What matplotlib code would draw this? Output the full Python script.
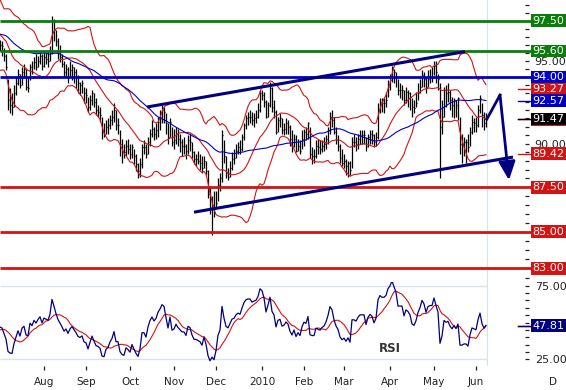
import numpy as np
import pandas as pd
import matplotlib
matplotlib.use("Agg")
import matplotlib.pyplot as plt
import matplotlib.transforms as mtransforms
from matplotlib.ticker import FixedLocator, FormatStrFormatter, NullFormatter

plt.rcParams['font.family'] = ['DejaVu Sans']

# ---------------- data ----------------
start_date, end_date = '2009-07-02', '2010-06-08'

highs = [
    # Jul
    96.3, 96.2, 95.8, 95.4, 93.9, 93.3, 93.0, 93.5, 94.0, 94.5, 94.2, 94.6, 94.8, 94.5, 94.0, 94.8, 95.0, 95.2, 95.4, 95.3, 95.6, 95.4,
    # Aug
    95.6, 95.5, 95.6, 95.9, 97.8, 97.6, 96.9, 96.4, 96.0, 95.4, 95.0, 94.8, 94.6, 95.0, 94.8, 94.6, 94.5, 94.1, 93.7, 93.8, 93.4,
    # Sep
    93.3, 92.8, 92.9, 93.2, 93.0, 92.7, 92.3, 92.2, 91.6, 91.2, 91.4, 91.5, 91.7, 92.0, 92.4, 92.0, 91.5, 90.8, 90.3, 90.0, 90.2, 90.3,
    # Oct
    90.0, 90.0, 89.7, 89.4, 88.9, 89.2, 90.0, 90.2, 90.0, 90.4, 90.9, 91.4, 91.0, 91.2, 91.6, 92.0, 92.3, 92.2, 91.8, 91.2, 91.5, 91.0,
    # Nov
    90.9, 91.0, 90.9, 90.6, 90.3, 90.4, 90.0, 90.5, 90.6, 90.1, 89.6, 89.4, 89.6, 89.4, 89.3, 89.3, 89.0, 88.5, 87.5, 87.0, 87.3,
    # Dec
    87.3, 88.0, 88.3, 90.8, 90.2, 89.3, 88.6, 89.0, 89.5, 89.7, 90.0, 90.1, 90.2, 90.6, 91.2, 91.7, 91.9, 92.0, 91.9, 91.8, 92.0, 92.4, 93.2,
    # Jan
    93.2, 93.1, 92.6, 92.5, 93.7, 93.4, 92.6, 92.0, 91.6, 91.8, 91.5, 91.2, 91.5, 91.4, 91.1, 90.8, 90.6, 90.5, 90.3, 90.2, 90.8,
    # Feb
    90.9, 91.0, 91.3, 91.0, 89.8, 89.7, 90.2, 90.3, 90.2, 90.2, 90.4, 90.5, 91.0, 91.9, 92.0, 91.6, 91.0, 90.5, 90.0, 89.7,
    # Mar
    89.4, 89.1, 89.0, 89.0, 90.4, 90.6, 90.4, 90.6, 90.8, 90.8, 90.8, 90.4, 90.6, 90.8, 90.8, 90.6, 90.7, 92.4, 92.7, 92.7, 92.7, 93.1, 93.8,
    # Apr
    94.2, 94.7, 94.5, 94.3, 93.9, 93.6, 93.5, 93.2, 93.4, 93.2, 93.1, 92.7, 92.6, 93.1, 93.6, 93.9, 94.4, 94.3, 94.0, 94.4, 94.5, 94.6,
    # May
    95.0, 95.0, 94.2, 93.6, 92.6, 93.4, 93.5, 93.6, 93.2, 92.8, 92.7, 92.6, 92.8, 91.6, 90.6, 90.4, 90.3, 90.6, 91.0, 91.7, 91.5,
    # Jun
    91.6, 92.3, 92.9, 92.4, 91.9, 91.8,
]

lows = [
    95.6, 95.3, 95.0, 94.4, 92.0, 91.8, 91.7, 92.2, 92.9, 93.5, 93.3, 93.5, 94.0, 93.2, 93.1, 93.8, 94.2, 94.5, 94.4, 94.6, 94.8, 94.4,
    94.6, 94.8, 94.6, 95.0, 95.4, 96.2, 95.9, 95.1, 94.9, 94.6, 94.0, 94.0, 93.6, 94.0, 93.8, 93.6, 93.3, 93.0, 92.9, 93.0, 92.4,
    92.4, 91.9, 92.0, 92.3, 92.2, 91.7, 91.6, 91.3, 90.3, 90.4, 90.6, 90.6, 90.9, 91.1, 91.3, 90.8, 90.6, 89.3, 88.9, 89.2, 89.3, 89.4,
    89.1, 89.2, 88.8, 88.4, 88.0, 88.1, 88.6, 89.4, 89.2, 89.4, 89.9, 90.4, 90.2, 90.3, 90.4, 90.8, 91.2, 91.2, 90.6, 90.0, 90.4, 89.9,
    89.7, 90.0, 89.9, 89.5, 89.3, 89.4, 89.1, 89.4, 89.6, 89.2, 88.8, 88.7, 88.8, 88.5, 88.3, 88.6, 88.2, 86.9, 86.0, 84.8, 85.8,
    86.3, 86.7, 87.3, 87.8, 88.9, 88.0, 87.9, 88.1, 88.5, 88.8, 89.2, 89.4, 89.4, 89.6, 90.2, 90.9, 91.1, 91.2, 91.1, 91.0, 91.2, 91.5, 91.9,
    92.6, 92.2, 91.5, 91.6, 92.2, 91.9, 91.5, 90.6, 90.7, 91.0, 90.6, 90.5, 90.6, 90.6, 89.9, 89.5, 89.8, 89.5, 89.6, 89.4, 89.7,
    89.9, 90.2, 90.3, 89.2, 88.8, 88.9, 89.2, 89.4, 89.4, 89.5, 89.6, 89.7, 90.0, 90.6, 91.0, 90.6, 90.0, 89.6, 88.9, 88.7,
    88.6, 88.2, 88.1, 88.2, 88.6, 89.8, 89.6, 89.7, 90.0, 90.0, 90.0, 89.6, 89.8, 90.0, 90.0, 89.8, 89.9, 90.3, 91.8, 91.9, 91.8, 92.2, 92.8,
    93.2, 93.7, 93.6, 93.4, 92.9, 92.7, 92.6, 92.3, 92.4, 92.2, 92.0, 91.6, 91.8, 92.2, 92.6, 93.0, 93.4, 93.4, 93.0, 93.4, 93.6, 93.7,
    94.1, 93.6, 93.2, 88.0, 90.6, 91.6, 92.2, 92.5, 92.0, 91.6, 91.5, 91.6, 91.4, 89.4, 88.9, 89.3, 88.9, 89.5, 89.9, 90.6, 90.7,
    90.7, 91.0, 91.8, 91.0, 90.8, 91.0,
]

closes = [
    96.0, 95.9, 95.3, 94.6, 92.6, 92.3, 92.2, 93.0, 93.6, 94.2, 93.5, 94.3, 94.5, 93.4, 93.3, 94.6, 94.3, 94.9, 94.6, 95.0, 95.3, 94.7,
    95.2, 95.1, 95.0, 95.6, 97.5, 96.9, 96.2, 95.6, 95.2, 94.8, 94.3, 94.5, 94.0, 94.4, 94.6, 94.3, 94.0, 93.6, 93.5, 93.6, 93.0,
    92.9, 92.2, 92.6, 93.0, 92.5, 92.0, 91.9, 91.7, 90.7, 90.6, 91.0, 91.1, 91.4, 91.6, 92.0, 91.1, 91.1, 90.0, 89.6, 89.5, 89.9, 89.7,
    89.4, 89.8, 89.3, 88.8, 88.4, 88.8, 89.8, 89.8, 89.4, 90.1, 90.6, 90.9, 90.6, 90.8, 91.3, 91.6, 92.0, 91.9, 91.2, 90.4, 91.3, 90.1,
    90.2, 90.6, 90.3, 90.1, 89.9, 89.9, 89.6, 90.2, 90.1, 89.5, 89.1, 89.1, 89.0, 88.9, 88.6, 89.0, 88.4, 87.1, 86.3, 86.5, 86.1,
    86.6, 87.6, 88.0, 90.5, 89.3, 88.3, 88.1, 88.6, 89.1, 89.2, 89.6, 89.8, 89.7, 90.4, 91.1, 91.5, 91.6, 91.6, 91.4, 91.5, 91.6, 92.0, 93.0,
    92.9, 92.5, 91.6, 92.3, 93.3, 92.2, 91.9, 90.7, 91.4, 91.5, 90.8, 90.9, 91.2, 91.0, 90.3, 89.9, 90.3, 89.6, 89.9, 89.6, 90.3,
    90.7, 90.6, 91.2, 89.4, 89.3, 89.3, 89.9, 89.8, 89.7, 89.9, 90.0, 90.3, 90.8, 91.6, 91.4, 90.7, 90.2, 89.9, 89.2, 88.9,
    89.0, 88.7, 88.9, 88.5, 90.1, 90.1, 90.0, 90.3, 90.5, 90.5, 90.5, 89.9, 90.4, 90.6, 90.5, 90.1, 90.4, 92.0, 92.5, 92.4, 92.4, 92.6, 93.4,
    93.8, 94.6, 94.3, 94.0, 93.2, 93.2, 93.2, 92.6, 93.1, 93.0, 92.8, 92.2, 92.1, 92.4, 93.0, 93.4, 94.1, 93.9, 93.4, 93.9, 94.0, 94.0,
    94.7, 94.3, 93.9, 91.0, 91.6, 93.2, 93.0, 93.1, 92.6, 92.3, 92.6, 92.3, 92.7, 90.0, 90.0, 90.1, 90.1, 89.8, 90.7, 91.3, 91.2,
    91.1, 92.0, 92.7, 91.7, 91.2, 91.47,
]

# closes before the first visible bar (24 Apr - 1 Jul 2009), only used to warm up the indicators
warmup_closes = [
    97.3, 96.9, 96.8, 97.5, 98.6, 98.9, 99.2, 98.6, 98.6, 98.6, 98.3, 97.1, 96.9, 96.4, 95.2, 95.4, 96.5,
    95.5, 94.8, 93.8, 94.9, 94.7, 95.1, 97.0, 97.1, 95.3, 96.5, 95.7, 96.3, 96.6, 98.6, 98.4, 97.0, 98.4,
    98.2, 98.2, 97.2, 96.1, 95.6, 96.3, 96.2, 95.9, 95.4, 95.8, 95.3, 95.2, 95.8, 96.3, 96.6,
]

level_values = [97.50, 95.60, 94.00, 87.50, 85.00, 83.00]
level_kinds = ['green', 'green', 'blue', 'red', 'red', 'red']

label_upper_band = 93.27
label_ma = 92.57
label_close = 91.47
label_lower_band = 89.42
label_rsi = 47.81

# trend channel & projection, as (bar number, price)
channel_top_bars, channel_top_prices = [74.5, 233.5], [92.18, 95.56]
channel_bottom_bars, channel_bottom_prices = [98.0, 257.5], [86.09, 89.23]
projection_bars, projection_prices = [244.5, 251.0, 255.5], [91.47, 92.90, 87.90]

month_names = {1: '2010', 2: 'Feb', 3: 'Mar', 4: 'Apr', 5: 'May', 6: 'Jun', 7: 'Jul',
               8: 'Aug', 9: 'Sep', 10: 'Oct', 11: 'Nov', 12: 'Dec'}

# ---------------- indicators ----------------
dates = pd.bdate_range(start_date, end_date)
N = len(closes)
x = np.arange(1, N + 1)
nw = len(warmup_closes)
s = pd.Series(warmup_closes + closes, dtype=float)
mid = s.rolling(20).mean()
sd = s.rolling(20).std(ddof=0)
upper = (mid + 2 * sd).values[nw:]
lower = (mid - 2 * sd).values[nw:]
mid = mid.values[nw:]
ma50 = s.rolling(50).mean().values[nw:]
d = s.diff()
ag = d.clip(lower=0).ewm(alpha=1 / 14, adjust=False).mean()
al = (-d.clip(upper=0)).ewm(alpha=1 / 14, adjust=False).mean()
rsi_full = 100 - 100 / (1 + ag / al)
rsi_ma = rsi_full.rolling(9).mean().values[nw:]
rsi = rsi_full.values[nw:]

# ---------------- figure ----------------
W, H = 566, 390
AXR = 525
fig = plt.figure(figsize=(W / 100, H / 100), dpi=100)
ax = fig.add_axes([0, 1 - 282 / H, AXR / W, 282 / H])
ax2 = fig.add_axes([0, 1 - 366 / H, AXR / W, (366 - 282) / H])

GREEN = '#0b7d0b'
BLUE = '#0000c8'
RED = '#d41313'
NAVY = '#000080'
GRID = '#d9e2ea'

for a in (ax, ax2):
    for sp in a.spines.values():
        sp.set_visible(False)
    a.set_xlim(1, (AXR + 2) / 2)
    a.axvline(N + 0.5, color=GRID, lw=0.9, zorder=0)

# main price panel
ax.set_yscale('log')
ax.set_ylim(82.27, 98.82)
ax.vlines(x, lows, highs, color='black', lw=0.9, zorder=2)
ax.hlines(closes, x, x + 0.7, color='black', lw=0.9, zorder=2)
ax.plot(x, upper, color=RED, lw=0.8, zorder=3)
ax.plot(x, mid, color=RED, lw=0.8, zorder=3)
ax.plot(x, lower, color=RED, lw=0.8, zorder=3)
ax.plot(x, ma50, color=BLUE, lw=0.8, zorder=3)

tr = mtransforms.blended_transform_factory(ax.transAxes, ax.transData)
kind_color = {'green': GREEN, 'blue': BLUE, 'red': RED}
box_x = 531 / AXR
for v, k in zip(level_values, level_kinds):
    ax.plot([0, box_x], [v, v], transform=tr, color=kind_color[k], lw=2.0,
            clip_on=False, zorder=4, solid_capstyle='butt')


def box_label(a, trans, v, txt, fc, z=6):
    a.text(box_x + 1.5 / AXR, v, txt, transform=trans, ha='left', va='center',
           fontsize=8, color='white', clip_on=False, zorder=z,
           bbox=dict(boxstyle='square,pad=0.12', fc=fc, ec='none'))


def dash(a, trans, v, c):
    a.plot([518 / AXR, box_x], [v, v], transform=trans, color=c, lw=1.0,
           clip_on=False, zorder=5)


for v, k in zip(level_values, level_kinds):
    box_label(ax, tr, v, f'{v:.2f}', kind_color[k])

dash(ax, tr, label_upper_band, RED)
box_label(ax, tr, label_upper_band, f'{label_upper_band:.2f}', RED, z=6)
dash(ax, tr, label_ma, NAVY)
box_label(ax, tr, label_ma, f'{label_ma:.2f}', BLUE, z=7)
dash(ax, tr, mid[-1], RED)
box_label(ax, tr, mid[-1], f'{mid[-1]:.2f}', RED, z=6)
dash(ax, tr, label_close, 'black')
box_label(ax, tr, label_close, f'{label_close:.2f}', 'black', z=8)
dash(ax, tr, label_lower_band, RED)
box_label(ax, tr, label_lower_band, f'{label_lower_band:.2f}', RED, z=8)

# channel and projection
ax.plot(channel_top_bars, channel_top_prices, color=NAVY, lw=2.2, zorder=5,
        solid_capstyle='butt')
ax.plot(channel_bottom_bars, channel_bottom_prices, color=NAVY, lw=2.2, zorder=5,
        solid_capstyle='butt', clip_on=False)
ax.plot(projection_bars[:2], projection_prices[:2], color=NAVY, lw=2.0, zorder=5)
ax.annotate('', xy=(projection_bars[2], projection_prices[2]),
            xytext=(projection_bars[1], projection_prices[1]),
            arrowprops=dict(arrowstyle='-|>,head_length=0.8,head_width=0.36',
                            color=NAVY, lw=2.0, shrinkA=0, shrinkB=0,
                            mutation_scale=14),
            annotation_clip=False, zorder=5)

ax.yaxis.tick_right()
ax.yaxis.set_major_locator(FixedLocator([90, 95]))
ax.yaxis.set_major_formatter(FormatStrFormatter('%.2f'))
ax.yaxis.set_minor_locator(FixedLocator(np.arange(82.5, 99.0, 0.5)))
ax.yaxis.set_minor_formatter(NullFormatter())
ax.tick_params(axis='y', which='both', direction='out', length=3, width=0.9,
               colors='#222222', pad=4, labelsize=8)
ax.tick_params(axis='x', which='both', bottom=False, labelbottom=False)

# RSI panel
ax2.set_ylim(20.6, 77.4)
ax2.hlines([75, 25], 1, N + 0.5, color=GRID, lw=1.0, zorder=0)
ax2.plot(x, rsi_ma, color=RED, lw=0.8, zorder=3)
ax2.plot(x, rsi, color=NAVY, lw=0.9, zorder=4)
ax2.text(390 / AXR, (366 - 349) / 84, 'RSI', transform=ax2.transAxes, ha='center',
         va='center', fontsize=8.5, fontweight='bold', color='#333333')
tr2 = mtransforms.blended_transform_factory(ax2.transAxes, ax2.transData)
dash(ax2, tr2, rsi_ma[-1], RED)
box_label(ax2, tr2, rsi_ma[-1], f'{rsi_ma[-1]:.2f}', RED, z=6)
dash(ax2, tr2, label_rsi, NAVY)
box_label(ax2, tr2, label_rsi, f'{label_rsi:.2f}', NAVY, z=7)

ax2.yaxis.tick_right()
ax2.yaxis.set_major_locator(FixedLocator([25, 75]))
ax2.yaxis.set_major_formatter(FormatStrFormatter('%.2f'))
ax2.yaxis.set_minor_locator(FixedLocator(np.arange(20, 80, 5)))
ax2.yaxis.set_minor_formatter(NullFormatter())
ax2.tick_params(axis='y', which='both', direction='out', length=3, width=0.9,
                colors='#222222', pad=4, labelsize=8)

# month ticks / labels
first_pos, first_lab = [], []
for i in range(1, N):
    if dates[i].month != dates[i - 1].month:
        first_pos.append(x[i])
        first_lab.append(month_names[dates[i].month])
ax2.set_xticks(first_pos)
ax2.set_xticklabels([])
ax2.tick_params(axis='x', which='both', direction='out', length=3, width=0.9,
                colors='#222222')
xt = ax2.get_xaxis_transform()
lab_y = (366 - 382) / 84
for p, l in zip(first_pos, first_lab):
    ax2.text(p, lab_y, l, transform=xt, ha='center', va='center', fontsize=7.5,
             color='#222222', clip_on=False)
# the July label sits partly past the left edge, as in the reference
ax2.text(-2.0, lab_y, month_names[dates[0].month], transform=xt, ha='center',
         va='center', fontsize=7.5, color='#222222', clip_on=False)
fig.text(553 / W, 1 - 382 / H, 'D', ha='center', va='center', fontsize=7.5,
         color='#222222')

fig.savefig('out.png', dpi=100, facecolor='white')
